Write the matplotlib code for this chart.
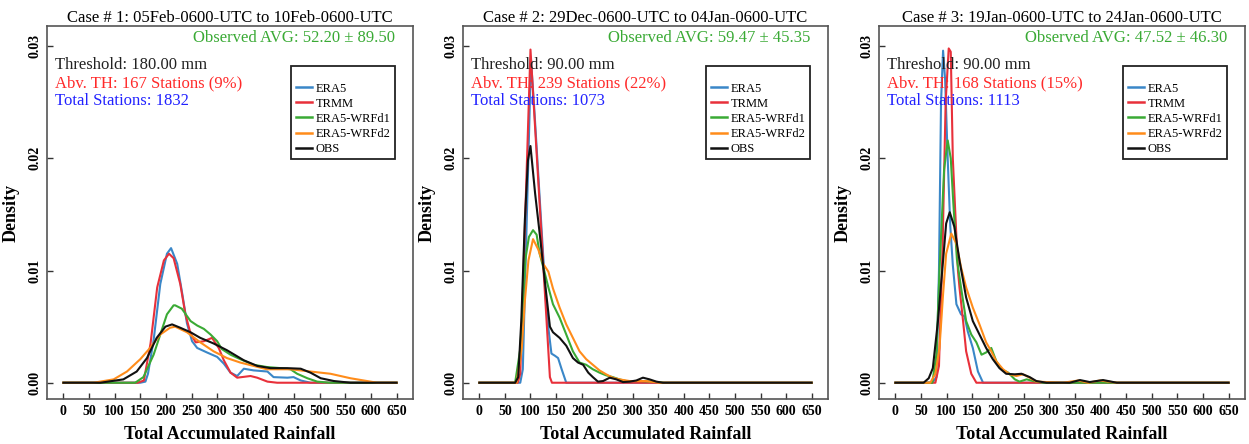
import matplotlib
matplotlib.use("Agg")
import matplotlib.pyplot as plt
from matplotlib.lines import Line2D

# ---------------------------------------------------------------- data
SERIES = ["ERA5", "TRMM", "ERA5-WRFd1", "ERA5-WRFd2", "OBS"]
COLORS = ["#3A87C8", "#E8303A", "#3AAA35", "#FF8C1A", "#111111"]

TITLES = [
    "Case # 1: 05Feb-0600-UTC to 10Feb-0600-UTC",
    "Case # 2: 29Dec-0600-UTC to 04Jan-0600-UTC",
    "Case # 3: 19Jan-0600-UTC to 24Jan-0600-UTC",
]
OBS_AVG = ["52.20 \u00b1 89.50", "59.47 \u00b1 45.35", "47.52 \u00b1 46.30"]
THRESHOLDS = ["180.00", "90.00", "90.00"]
ABOVE_TH = ["167 Stations (9%)", "239 Stations (22%)", "168 Stations (15%)"]
TOTAL_STATIONS = ["1832", "1073", "1113"]

X_TICKS = list(range(0, 651, 50))
Y_TICKS = [0.00, 0.01, 0.02, 0.03]

# density curves: (rainfall, density) pairs
C1_ERA5 = [(0, 0), (150, 0), (160, 0.0001), (165, 0.0008), (176, 0.0038), (189, 0.0088),
           (202, 0.0115), (210, 0.0120), (222, 0.0106), (232, 0.0079), (241, 0.0053),
           (251, 0.0037), (261, 0.0031), (280, 0.0027), (300, 0.0023), (313, 0.0017),
           (326, 0.0009), (339, 0.0006), (352, 0.00125), (371, 0.0011), (398, 0.0010),
           (410, 0.0005), (437, 0.00045), (449, 0.0005), (463, 0.0002), (482, 0.0), (650, 0)]
C1_TRMM = [(0, 0), (145, 0), (157, 0.0002), (170, 0.0035), (183, 0.0085), (196, 0.0109),
           (206, 0.0115), (215, 0.0111), (228, 0.0088), (238, 0.0061), (248, 0.0044),
           (258, 0.0036), (274, 0.0037), (290, 0.0040), (303, 0.0031), (313, 0.0020),
           (326, 0.0009), (339, 0.00045), (365, 0.0006), (378, 0.00045), (398, 0.0001),
           (417, 0.0), (650, 0)]
C1_WRFD1 = [(0, 0), (140, 0), (156, 0.0005), (176, 0.0025), (189, 0.0043), (202, 0.0061),
            (215, 0.0069), (218, 0.0069), (231, 0.0066), (248, 0.0055), (261, 0.0051),
            (274, 0.0048), (287, 0.0043), (300, 0.0037), (309, 0.0030), (326, 0.0025),
            (345, 0.0021), (371, 0.0016), (397, 0.0014), (424, 0.0013), (443, 0.0012),
            (456, 0.0008), (476, 0.0004), (495, 0.0001), (520, 0.0), (650, 0)]
C1_WRFD2 = [(0, 0), (59, 0), (98, 0.0003), (124, 0.0010), (150, 0.0021), (169, 0.0031),
            (189, 0.0043), (208, 0.0049), (218, 0.0050), (241, 0.0045), (267, 0.0036),
            (293, 0.0028), (319, 0.0022), (345, 0.0018), (371, 0.0015), (397, 0.0012),
            (443, 0.0012), (482, 0.0010), (521, 0.0008), (560, 0.0004), (599, 0.0001),
            (612, 0.0), (650, 0)]
C1_OBS = [(0, 0), (72, 0), (117, 0.0003), (143, 0.0010), (163, 0.0022), (182, 0.0040),
          (199, 0.0050), (212, 0.0052), (228, 0.0049), (248, 0.0045), (267, 0.0040),
          (293, 0.0035), (319, 0.0029), (352, 0.0020), (378, 0.0015), (404, 0.0013),
          (437, 0.0013), (463, 0.00125), (482, 0.0009), (502, 0.0004), (528, 0.00015),
          (560, 0.0), (650, 0)]

C2_ERA5 = [(0, 0), (80, 0), (85, 0.0012), (101, 0.0288), (108, 0.0240), (131, 0.0067),
           (136, 0.0045), (141, 0.0026), (148, 0.0024), (154, 0.0022), (161, 0.0012),
           (170, 0.0), (650, 0)]
C2_TRMM = [(0, 0), (75, 0), (80, 0.0008), (100, 0.0297), (138, 0.0005), (142, 0.0),
           (650, 0)]
C2_WRFD1 = [(0, 0), (70, 0), (80, 0.0030), (90, 0.0110), (97, 0.0130), (105, 0.0136),
            (112, 0.0132), (118, 0.0115), (125, 0.0103), (135, 0.0085), (144, 0.0070),
            (157, 0.0058), (170, 0.0043), (183, 0.0028), (196, 0.0018), (209, 0.0016),
            (222, 0.0012), (235, 0.0009), (248, 0.00066), (261, 0.0005), (274, 0.0003),
            (287, 0.00015), (313, 0.00015), (339, 0.0001), (362, 0.0), (650, 0)]
C2_WRFD2 = [(0, 0), (73, 0), (83, 0.0031), (89, 0.0073), (96, 0.0109), (105, 0.0128),
            (115, 0.0119), (125, 0.0106), (135, 0.0099), (144, 0.0084), (157, 0.0067),
            (170, 0.0052), (183, 0.0040), (196, 0.0028), (209, 0.0021), (222, 0.0016),
            (235, 0.0011), (248, 0.00075), (261, 0.00045), (274, 0.0003), (294, 0.00015),
            (326, 0.00015), (353, 0.0), (650, 0)]
C2_OBS = [(0, 0), (70, 0), (76, 0.0005), (82, 0.0055), (89, 0.0145), (95, 0.0198),
          (100, 0.0211), (109, 0.0169), (118, 0.0133), (128, 0.0091), (138, 0.0050),
          (144, 0.0045), (157, 0.0040), (170, 0.0033), (183, 0.0022), (193, 0.0018),
          (203, 0.0016), (213, 0.0009), (222, 0.0005), (232, 0.0001), (242, 0.00015),
          (255, 0.00045), (268, 0.0003), (281, 0.00006), (294, 0.0001), (307, 0.0002),
          (320, 0.00045), (333, 0.0003), (346, 0.0001), (359, 0.0), (650, 0)]

C3_ERA5 = [(0, 0), (72, 0), (80, 0.0005), (85, 0.0100), (89, 0.0250), (93, 0.0296),
           (97, 0.0270), (102, 0.0200), (107, 0.0140), (112, 0.0105), (119, 0.0070),
           (128, 0.0061), (135, 0.0059), (141, 0.0046), (151, 0.0031), (161, 0.0010),
           (171, 0.0), (650, 0)]
C3_TRMM = [(0, 0), (78, 0), (85, 0.0015), (92, 0.0120), (98, 0.0250), (104, 0.0298),
           (108, 0.0295), (112, 0.0200), (122, 0.0100), (125, 0.0085), (132, 0.0055),
           (138, 0.0028), (148, 0.0008), (158, 0.0), (650, 0)]
C3_WRFD1 = [(0, 0), (72, 0), (80, 0.0025), (86, 0.0100), (95, 0.0190), (102, 0.0216),
            (108, 0.0200), (113, 0.0160), (120, 0.0110), (128, 0.0085), (138, 0.0055),
            (148, 0.0043), (158, 0.0036), (168, 0.0025), (177, 0.0027), (187, 0.0031),
            (197, 0.0019), (207, 0.0012), (220, 0.0009), (233, 0.0003), (242, 0.0001),
            (256, 0.0003), (269, 0.00015), (288, 0.0), (650, 0)]
C3_WRFD2 = [(0, 0), (68, 0), (78, 0.0008), (86, 0.0031), (93, 0.0079), (99, 0.0115),
            (109, 0.0133), (119, 0.0124), (128, 0.0103), (138, 0.0085), (151, 0.0067),
            (164, 0.0052), (177, 0.0036), (187, 0.0028), (197, 0.0019), (210, 0.0012),
            (223, 0.00075), (236, 0.0006), (249, 0.00075), (262, 0.00045), (275, 0.0001),
            (327, 0.0), (357, 0.0002), (376, 0.0), (399, 0.0002), (432, 0.0), (650, 0)]
C3_OBS = [(0, 0), (55, 0), (65, 0.0004), (73, 0.0013), (83, 0.0055), (93, 0.0109),
          (99, 0.0142), (106, 0.0152), (115, 0.0139), (125, 0.0109), (138, 0.0076),
          (151, 0.0055), (164, 0.0043), (177, 0.0031), (190, 0.0021), (203, 0.0013),
          (216, 0.0008), (233, 0.00075), (246, 0.0008), (262, 0.0005), (275, 0.00015),
          (295, 0.0), (340, 0.0), (360, 0.00024), (379, 0.00006), (405, 0.00024),
          (432, 0.0), (650, 0)]

CASES = [
    [C1_ERA5, C1_TRMM, C1_WRFD1, C1_WRFD2, C1_OBS],
    [C2_ERA5, C2_TRMM, C2_WRFD1, C2_WRFD2, C2_OBS],
    [C3_ERA5, C3_TRMM, C3_WRFD1, C3_WRFD2, C3_OBS],
]

# ---------------------------------------------------------------- style
SERIF = ["Liberation Serif", "DejaVu Serif"]
plt.rcParams["font.family"] = SERIF
plt.rcParams["mathtext.fontset"] = "stix"

W, H = 1249, 444
fig = plt.figure(figsize=(W / 100, H / 100), dpi=100)

AX_LEFT_PX = [47, 463, 879]
AX_WIDTH_PX = [366, 365, 366]
AX_TOP_PX, AX_BOTTOM_PX = 26, 399

FRAME_COLOR = "#555555"

for i in range(3):
    ax = fig.add_axes([AX_LEFT_PX[i] / W, 1 - AX_BOTTOM_PX / H,
                       AX_WIDTH_PX[i] / W, (AX_BOTTOM_PX - AX_TOP_PX) / H])
    for curve, color, name in zip(CASES[i], COLORS, SERIES):
        xs = [p[0] for p in curve]
        ys = [p[1] for p in curve]
        ax.plot(xs, ys, color=color, lw=1.5, label=name, solid_joinstyle="round")

    ax.set_xlim(-32, 682)
    ax.set_ylim(-0.00145, 0.0318)
    ax.set_xticks(X_TICKS)
    ax.set_xticklabels([str(t) for t in X_TICKS])
    ax.set_yticks(Y_TICKS)
    ax.set_yticklabels([f"{t:.2f}" for t in Y_TICKS], rotation=90, va="center")
    ax.tick_params(direction="in", length=4, width=1, color="#333333",
                   labelsize=10, pad=4)
    for lab in ax.get_xticklabels() + ax.get_yticklabels():
        lab.set_fontweight("bold")
    for sp in ax.spines.values():
        sp.set_color(FRAME_COLOR)
        sp.set_linewidth(1.2)

    ax.set_title(TITLES[i], fontsize=12, pad=3)
    ax.set_xlabel("Total Accumulated Rainfall", fontsize=13, fontweight="bold", labelpad=6)
    ax.set_ylabel("Density", fontsize=13, fontweight="bold", labelpad=6)

    ax.text(0.951, 0.968, f"Observed AVG: {OBS_AVG[i]}", transform=ax.transAxes,
            ha="right", va="center", fontsize=12, color="#3AAA35")
    ax.text(0.022, 0.895, f"Threshold: {THRESHOLDS[i]} mm", transform=ax.transAxes,
            ha="left", va="center", fontsize=12, color="#222222")
    ax.text(0.022, 0.846, f"Abv. TH: {ABOVE_TH[i]}", transform=ax.transAxes,
            ha="left", va="center", fontsize=12, color="#FF2A2A")
    ax.text(0.022, 0.798, f"Total Stations: {TOTAL_STATIONS[i]}", transform=ax.transAxes,
            ha="left", va="center", fontsize=12, color="#2222FF")

    handles = [Line2D([], [], color=c, lw=1.8) for c in COLORS]
    leg = ax.legend(handles, SERIES, loc="upper right", bbox_to_anchor=(0.951, 0.8925),
                    fontsize=9, frameon=True, fancybox=False, framealpha=1,
                    edgecolor="#222222", handlelength=1.3, handletextpad=0.3,
                    borderpad=0.35, labelspacing=0.25, borderaxespad=0,
                    title=" ", title_fontsize=7)
    leg.get_frame().set_linewidth(1.3)

fig.savefig("out.png", dpi=100)
